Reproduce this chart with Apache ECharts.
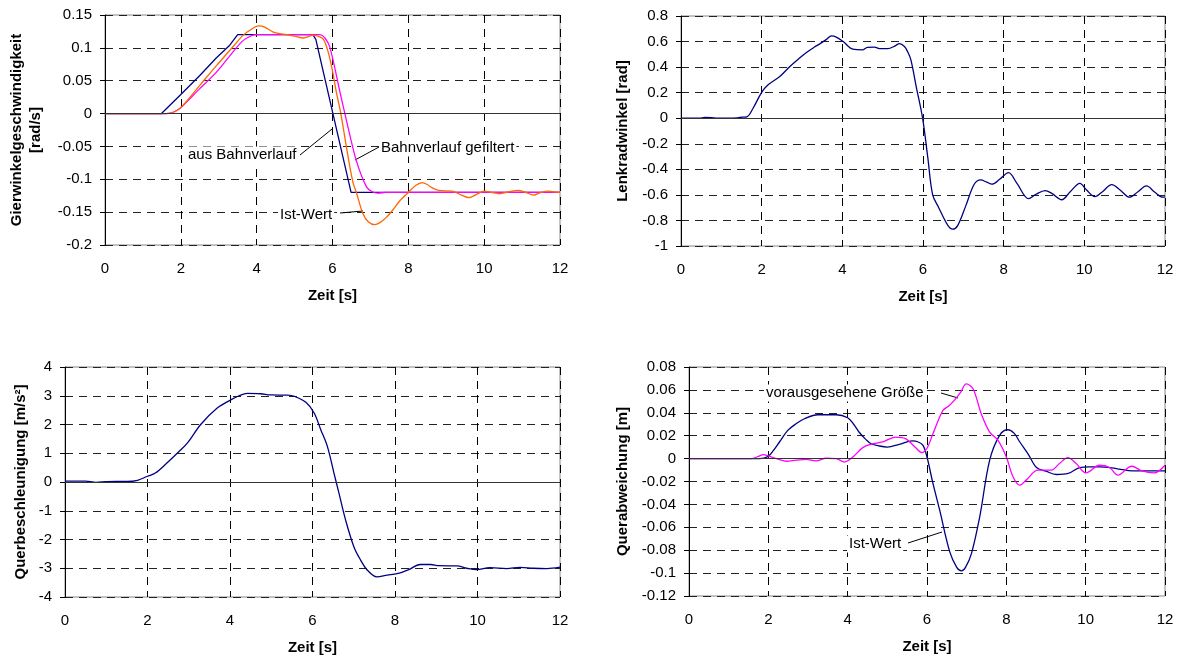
<!DOCTYPE html>
<html><head><meta charset="utf-8">
<script src="https://cdn.jsdelivr.net/npm/echarts@6/dist/echarts.min.js"></script>
<style>html,body{margin:0;padding:0;background:#fff}#c{width:1183px;height:659px}</style>
</head><body><div id="c"></div>
<script>
// ---------- Panel 1: Gierwinkelgeschwindigkeit [rad/s] ----------
const gierBahnT = [0,1.49,2.0,2.5,2.94,3.29,3.5,5.48,5.56,6.49,12];
const gierBahnV = [0,0,0.029,0.058,0.085,0.104,0.12,0.12,0.113,-0.12,-0.12];
const gierFiltT = [0,1.6,1.75,1.9,2.0,2.5,2.94,3.42,3.64,3.85,4.0,5.67,5.8,5.93,6.2,6.37,6.63,6.9,7.05,7.2,7.4,12];
const gierFiltV = [0,0,0.001,0.005,0.009,0.038,0.063,0.097,0.111,0.118,0.12,0.12,0.115,0.101,0.032,-0.011,-0.072,-0.112,-0.119,-0.121,-0.12,-0.12];
const gierIstT = [0,1.6,1.8,2.0,2.5,2.94,3.38,3.64,3.85,4.05,4.2,4.44,4.79,5.0,5.23,5.49,5.62,5.76,5.88,6.0,6.1,6.22,6.35,6.46,6.55,6.63,6.8,6.95,7.11,7.25,7.42,7.6,7.77,8.0,8.2,8.37,8.5,8.63,8.8,9.16,9.4,9.6,9.8,10.0,10.2,10.4,10.65,10.9,11.1,11.3,11.5,11.7,11.85,12];
const gierIstV = [0,0,0.002,0.009,0.043,0.073,0.102,0.119,0.128,0.1335,0.132,0.124,0.12,0.118,0.115,0.119,0.118,0.113,0.095,0.065,0.033,0,-0.045,-0.082,-0.107,-0.12,-0.152,-0.165,-0.169,-0.166,-0.158,-0.146,-0.133,-0.12,-0.109,-0.105,-0.108,-0.113,-0.117,-0.118,-0.124,-0.128,-0.123,-0.118,-0.12,-0.122,-0.119,-0.117,-0.12,-0.124,-0.12,-0.118,-0.119,-0.12];

// ---------- Panel 2: Lenkradwinkel [rad] ----------
const lenkT = [0,0.45,0.6,0.75,0.9,1.2,1.4,1.52,1.63,1.79,2.0,2.16,2.45,2.7,2.9,3.11,3.3,3.44,3.6,3.73,3.85,4.02,4.26,4.51,4.62,4.8,4.92,5.13,5.3,5.42,5.54,5.62,5.7,5.83,5.99,6.12,6.24,6.39,6.49,6.62,6.73,6.86,7.06,7.27,7.43,7.58,7.71,7.9,8.12,8.33,8.62,8.8,9.03,9.2,9.44,9.65,9.89,10.05,10.26,10.45,10.68,10.9,11.12,11.33,11.54,11.75,11.95,12];
const lenkV = [0,0,0.006,0.005,0,0,0.003,0.008,0.01,0.08,0.203,0.262,0.327,0.405,0.46,0.514,0.555,0.582,0.615,0.644,0.635,0.6,0.54,0.535,0.555,0.556,0.545,0.545,0.565,0.584,0.561,0.52,0.457,0.25,0,-0.31,-0.6,-0.7,-0.765,-0.84,-0.868,-0.84,-0.686,-0.517,-0.483,-0.5,-0.516,-0.478,-0.426,-0.51,-0.63,-0.595,-0.566,-0.59,-0.638,-0.575,-0.51,-0.56,-0.613,-0.575,-0.52,-0.565,-0.618,-0.575,-0.53,-0.58,-0.618,-0.615];

// ---------- Panel 3: Querbeschleunigung [m/s²] ----------
const querbT = [0,0.5,0.75,1.0,1.25,1.5,1.76,2.0,2.19,2.47,2.72,2.97,3.29,3.69,4.0,4.22,4.42,4.74,4.98,5.4,5.56,5.84,6.04,6.2,6.36,6.52,6.64,6.8,7.0,7.16,7.32,7.56,7.81,8.05,8.33,8.61,8.86,9.06,9.5,9.74,9.98,10.3,10.71,11.03,11.35,11.68,12];
const querbV = [0.03,0.03,-0.01,0.01,0.02,0.02,0.06,0.2,0.31,0.66,1.0,1.36,2.0,2.57,2.84,3.0,3.08,3.07,3.03,3.02,2.98,2.77,2.4,1.82,1.24,0.31,-0.38,-1.31,-2.24,-2.7,-3.05,-3.3,-3.24,-3.19,-3.05,-2.87,-2.87,-2.91,-2.92,-3.0,-3.05,-2.98,-3.01,-2.97,-3.0,-3.01,-2.96];

// ---------- Panel 4: Querabweichung [m] ----------
const abwIstT = [0,1.78,2.0,2.12,2.28,2.49,2.7,2.91,3.25,3.71,4.0,4.15,4.29,4.45,4.59,4.8,5.0,5.3,5.63,5.78,5.9,6.0,6.15,6.32,6.57,6.75,6.87,6.97,7.12,7.33,7.58,7.83,8.04,8.2,8.34,8.55,8.76,9.0,9.26,9.56,9.85,10.1,10.35,10.77,11.19,12];
const abwIstV = [0,0,0.002,0.0067,0.0145,0.0246,0.0304,0.0348,0.0383,0.0383,0.0357,0.03,0.023,0.017,0.013,0.011,0.0101,0.0125,0.0154,0.0145,0.0116,0.0014,-0.0217,-0.045,-0.081,-0.095,-0.098,-0.095,-0.083,-0.0507,-0.0014,0.0203,0.0252,0.022,0.0145,0.004,-0.0078,-0.011,-0.0139,-0.013,-0.0078,-0.0072,-0.0072,-0.0087,-0.0107,-0.0107];
const abwVorT = [0,1.57,1.75,1.87,2.0,2.15,2.28,2.45,2.7,2.95,3.2,3.46,3.71,3.92,4.13,4.38,4.59,4.88,5.21,5.46,5.71,5.87,6.0,6.15,6.4,6.55,6.7,6.85,6.99,7.16,7.37,7.58,7.79,8.0,8.17,8.34,8.5,8.8,9.13,9.34,9.55,9.76,10.01,10.35,10.6,10.81,11.16,11.42,11.72,12];
const abwVorV = [0,0,0.002,0.0035,0.0023,0.0005,-0.0009,-0.0023,-0.0014,-0.0006,-0.002,0.0003,0,-0.003,0.0014,0.0096,0.0125,0.0145,0.0188,0.0174,0.0096,0.0052,0.009,0.0217,0.042,0.046,0.0513,0.058,0.0652,0.061,0.039,0.0232,0.0159,0.0014,-0.016,-0.0232,-0.0188,-0.0101,-0.0101,-0.0043,0.0009,-0.0043,-0.0125,-0.0058,-0.0078,-0.0145,-0.0067,-0.0107,-0.0125,-0.0058];

// axis ranges
const xRange = {min: 0, max: 12, interval: 2};
const yRanges = [
  {min: -0.2, max: 0.15, interval: 0.05},
  {min: -1, max: 0.8, interval: 0.2},
  {min: -4, max: 4, interval: 1},
  {min: -0.12, max: 0.08, interval: 0.02}
];
const yTitles = ['Gierwinkelgeschwindigkeit\n[rad/s]', 'Lenkradwinkel [rad]', 'Querbeschleunigung [m/s²]', 'Querabweichung [m]'];
const xTitle = 'Zeit [s]';

const NAVY = '#000080', MAG = '#FF00FF', ORANGE = '#FF6600';
const FONT = '"Liberation Sans", Arial, sans-serif';
const pairs = (t, v) => t.map((x, i) => [x, v[i]]);

const grids = [
  {left: 105, top: 15, width: 455, height: 230},
  {left: 681, top: 16, width: 484, height: 230},
  {left: 65, top: 367, width: 495, height: 230},
  {left: 689, top: 367, width: 476, height: 229}
];
const nameGaps = [60, 49, 35, 57];

const dash = [8, 6];
const xAxes = grids.map((g, i) => ({
  type: 'value', gridIndex: i, min: xRange.min, max: xRange.max, interval: xRange.interval,
  axisLine: {show: false, onZero: false}, axisTick: {show: false},
  axisLabel: {margin: 16, fontSize: 15, color: '#000', fontFamily: FONT},
  splitLine: {show: true, lineStyle: {type: dash, color: '#000', width: 1}},
  name: xTitle, nameLocation: 'middle', nameGap: 43,
  nameTextStyle: {fontSize: 15, fontWeight: 'bold', color: '#000', fontFamily: FONT}
}));
const yAxes = grids.map((g, i) => ({
  type: 'value', gridIndex: i, min: yRanges[i].min, max: yRanges[i].max, interval: yRanges[i].interval,
  axisLine: {show: true, onZero: false, lineStyle: {color: '#000', width: 1}},
  axisTick: {show: true, inside: false, length: 5, lineStyle: {color: '#000'}},
  axisLabel: {margin: 13, fontSize: 15, color: '#000', fontFamily: FONT},
  splitLine: {show: true, lineStyle: {type: dash, color: '#222', width: 1}},
  name: yTitles[i], nameLocation: 'middle', nameRotate: 90, nameGap: nameGaps[i],
  nameTextStyle: {fontSize: 15, fontWeight: 'bold', color: '#000', fontFamily: FONT, lineHeight: 19}
}));

const zeroLine = {
  silent: true, symbol: 'none', animation: false, label: {show: false},
  lineStyle: {color: '#333', type: 'solid', width: 1},
  emphasis: {disabled: true},
  data: [{yAxis: 0}]
};
function line(idx, data, color, smooth, withZero) {
  const s = {
    type: 'line', xAxisIndex: idx, yAxisIndex: idx, data: data, showSymbol: false, symbol: 'none',
    smooth: smooth, lineStyle: {color: color, width: 1.3}, itemStyle: {color: color},
    animation: false, silent: true
  };
  if (withZero) s.markLine = zeroLine;
  return s;
}

const series = [
  line(0, pairs(gierBahnT, gierBahnV), NAVY, false, true),
  line(0, pairs(gierFiltT, gierFiltV), MAG, 0.3, false),
  line(0, pairs(gierIstT, gierIstV), ORANGE, 0.3, false),
  line(1, pairs(lenkT, lenkV), NAVY, 0.35, true),
  line(2, pairs(querbT, querbV), NAVY, 0.35, true),
  line(3, pairs(abwIstT, abwIstV), NAVY, 0.35, true),
  line(3, pairs(abwVorT, abwVorV), MAG, 0.35, false)
];

function label(text, x, y) {
  return {type: 'text', z: 1, x: x, y: y,
    style: {text: text, font: '15px ' + FONT, fill: '#000', align: 'left', verticalAlign: 'middle',
            backgroundColor: '#fff', padding: [1, 2]}};
}
function leader(x1, y1, x2, y2) {
  return {type: 'line', z: 1, shape: {x1: x1, y1: y1, x2: x2, y2: y2}, style: {stroke: '#000', lineWidth: 1}};
}

const graphic = [
  label('aus Bahnverlauf', 186, 155), leader(300, 155, 332, 129),
  label('Bahnverlauf gefiltert', 379, 148), leader(355, 160, 379, 147),
  label('Ist-Wert', 278, 215), leader(340, 213, 363, 211),
  label('vorausgesehene Größe', 764, 393), leader(941, 393, 958, 398),
  label('Ist-Wert', 847, 544), leader(908, 543, 942, 532)
];

const chart = echarts.init(document.getElementById('c'), null, {renderer: 'canvas'});
chart.setOption({
  backgroundColor: '#fff',
  animation: false,
  grid: grids.map(g => Object.assign({show: true, borderColor: '#888', borderWidth: 1, backgroundColor: 'transparent', containLabel: false}, g)),
  xAxis: xAxes,
  yAxis: yAxes,
  series: series,
  graphic: graphic
});
</script></body></html>
